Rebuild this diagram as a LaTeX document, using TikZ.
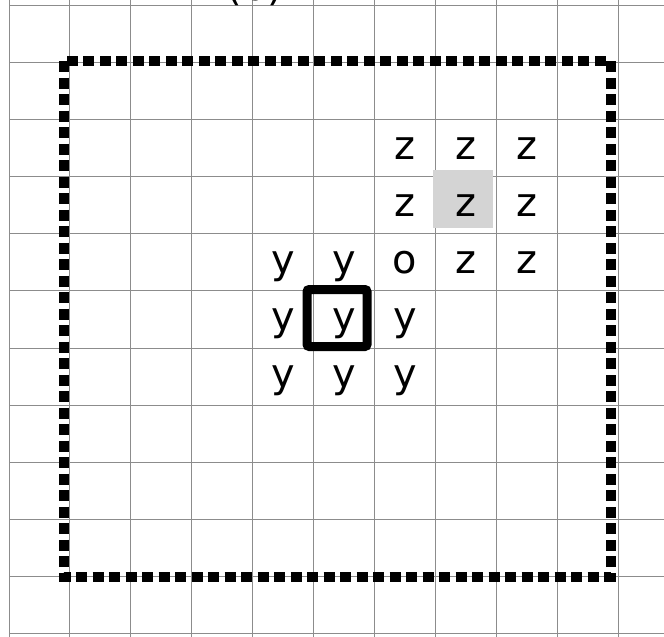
\documentclass[tikz,border=0pt]{standalone}
\usepackage{fontspec}
\setmainfont{DejaVu Sans}
\usetikzlibrary{positioning}

\tikzset{
  cell/.style={inner sep=0pt, text height=18.5pt, text depth=0pt, font=\fontsize{34}{40}\selectfont},
  gridline/.style={draw=black!45, line width=0.8pt},
  window/.style={draw, line width=0.315cm, dash pattern=on 0.33cm off 0.165cm},
  focus/.style={draw, line width=0.27cm, rounded corners=2pt},
  shade/.style={fill=black!17},
}

\begin{document}
\begin{tikzpicture}[x=1.827cm, y=1.712cm, on grid, node distance=1.712cm and 1.827cm]
\useasboundingbox (-0.148,0.098) rectangle (10.755,-11.048);

% grid
\foreach \i in {0,...,10}
  \draw[gridline] (\i,0.2) -- (\i,-11.2);
\foreach \j in {0,...,11}
  \draw[gridline] (0,-\j) -- (10.9,-\j);

\node (tag) [anchor=base, font=\fontsize{34}{40}\selectfont] at (4.03,0.085) {(b)};

\fill[shade] (6.96,-2.88) rectangle (7.95,-3.90);

% z block
\node (z1) [cell] at (6.5,-2.5) {z};
\node (z2) [cell, right=of z1] {z};
\node (z3) [cell, right=of z2] {z};
\node (z4) [cell, below=of z1] {z};
\node (z5) [cell, below=of z2] {z};
\node (z6) [cell, below=of z3] {z};
\node (o) [cell, below=of z4] {o};
\node (z7) [cell, below=of z5] {z};
\node (z8) [cell, below=of z6] {z};

% y block
\node (y2) [cell, left=of o] {y};
\node (y1) [cell, left=of y2] {y};
\node (y3) [cell, below=of y1] {y};
\node (y4) [cell, below=of y2] {y};
\node (y5) [cell, below=of o] {y};
\node (y6) [cell, below=of y3] {y};
\node (y7) [cell, below=of y4] {y};
\node (y8) [cell, below=of y5] {y};

\draw[focus] (4.893,-4.975) rectangle (5.879,-5.974);
\draw[window] (0.903,-0.971) rectangle (9.885,-10.01);

\end{tikzpicture}
\end{document}
